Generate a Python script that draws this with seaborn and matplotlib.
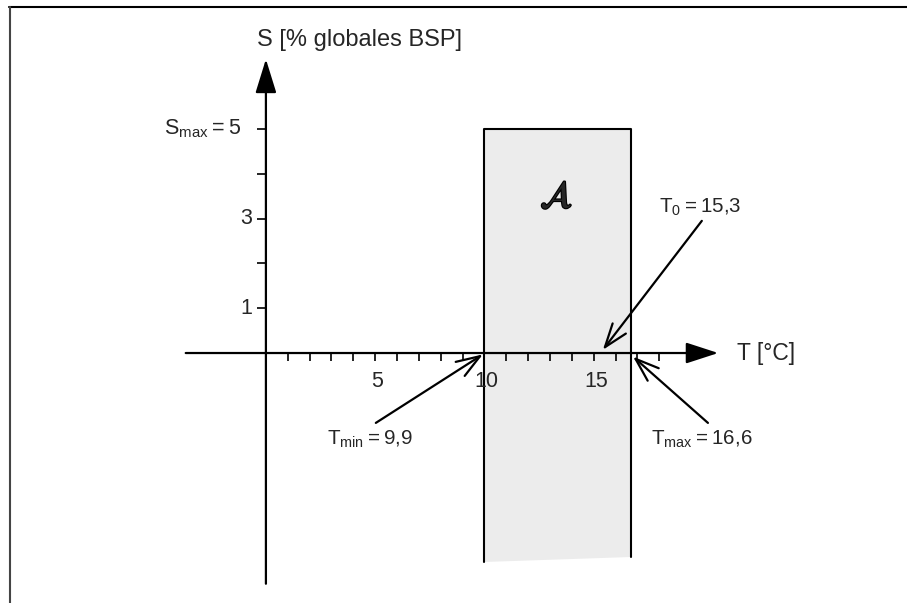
import matplotlib
matplotlib.use("Agg")
import matplotlib.pyplot as plt
import matplotlib.patheffects as pe
import seaborn as sns
import pandas as pd
from matplotlib.lines import Line2D

# ---- data ----
T_min = 9.9
T_0 = 15.3
T_max = 16.6
S_max = 5

x_minor_ticks = [1, 2, 3, 4, 5, 6, 7, 8, 9, 10, 11, 12, 13, 14, 15, 16, 17, 18]
x_tick_labels_pos = [5, 10, 15]
x_tick_labels = ["5", "10", "15"]
y_ticks = [1, 2, 3, 4, 5]
y_tick_labels_pos = [1, 3, 5]
y_tick_labels = ["1", "3", "S$_{\\mathregular{max}}$\u2009=\u20095"]

box_x = [10.0, 10.0, 16.7, 16.7]          # region A outline (left, top, right)
box_y = [-4.67, 5.0, 5.0, -4.55]

x_axis_range = [-3.67, 20.7]
y_axis_range = [-5.15, 6.56]

sns.set_theme(style="white")
plt.rcParams["font.family"] = ["Liberation Sans", "DejaVu Sans"]
plt.rcParams["mathtext.fontset"] = "custom"
plt.rcParams["mathtext.rm"] = "Liberation Sans"
plt.rcParams["mathtext.it"] = "Liberation Sans:italic"

fig = plt.figure(figsize=(9.07, 6.03), dpi=100)
ax = fig.add_axes([0, 0, 1, 1])
ax.set_xlim(-12.17, 29.34)
ax.set_ylim(-5.58, 7.88)
ax.axis("off")

# region A
ax.fill(box_x, box_y, color="#ececec", zorder=1, lw=0)
box_df = pd.DataFrame({"T": box_x, "S": box_y})
sns.lineplot(data=box_df, x="T", y="S", sort=False, estimator=None,
             color="black", lw=1.5, ax=ax, zorder=2)

# axes with arrowheads
ax.annotate("", xy=(x_axis_range[1], 0), xytext=(x_axis_range[0], 0),
            arrowprops=dict(arrowstyle="-|>,head_length=2.0,head_width=0.65",
                            mutation_scale=10, lw=1.6, color="black",
                            shrinkA=0, shrinkB=0), zorder=3)
ax.annotate("", xy=(0, y_axis_range[1]), xytext=(0, y_axis_range[0]),
            arrowprops=dict(arrowstyle="-|>,head_length=2.1,head_width=0.65",
                            mutation_scale=10, lw=1.6, color="black",
                            shrinkA=0, shrinkB=0), zorder=3)

# ticks
ax.vlines(x_minor_ticks, -0.18, 0, color="black", lw=1.2, zorder=3)
ax.hlines(y_ticks, -0.41, 0, color="black", lw=1.2, zorder=3)

for xp, lab in zip(x_tick_labels_pos, x_tick_labels):
    ax.text(xp + 0.1, -0.63, lab, ha="center", va="center", fontsize=15.5)
for yp, lab in zip(y_tick_labels_pos, y_tick_labels):
    dx = -1.1 if lab.startswith("S") else -0.62
    ax.text(dx, yp, lab, ha="right", va="center", fontsize=15.5)

# axis titles
ax.text(4.3, 6.99, "S [% globales BSP]", ha="center", va="center", fontsize=17)
ax.text(21.56, 0, "T [°C]", ha="left", va="center", fontsize=16.5)

# region label
ax.text(13.3, 3.48, r"$\mathcal{A}$", ha="center", va="center", fontsize=27,
        math_fontfamily="stix",
        path_effects=[pe.withStroke(linewidth=1.6, foreground="black")])

# annotations
arrow = dict(arrowstyle="->,head_length=1.7,head_width=0.6", mutation_scale=10,
             lw=1.6, color="black", shrinkA=0, shrinkB=0)
ax.annotate("", xy=(T_min + 0.03, -0.03), xytext=(5.03, -1.56), arrowprops=arrow)
ax.text(4.76, -1.92, "T$_{\\mathregular{min}}$\u2009=\u20099,9", ha="center", va="center", fontsize=14.8)

ax.annotate("", xy=(T_max + 0.2, -0.08), xytext=(20.23, -1.56), arrowprops=arrow)
ax.text(19.95, -1.92, "T$_{\\mathregular{max}}$\u2009=\u200916,6", ha="center", va="center", fontsize=14.8)

ax.annotate("", xy=(T_0 + 0.12, 0.07), xytext=(19.95, 2.95), arrowprops=arrow)
ax.text(19.86, 3.25, "T$_{\\mathregular{0}}$\u2009=\u200915,3", ha="center", va="center", fontsize=14.8)

# outer frame (top and left)
fig.add_artist(Line2D([9 / 907, 1], [1 - 7 / 603, 1 - 7 / 603],
                      transform=fig.transFigure, color="black", lw=1.5))
fig.add_artist(Line2D([10 / 907, 10 / 907], [0, 1 - 7 / 603],
                      transform=fig.transFigure, color="#444444", lw=1.5))

fig.savefig("out.png", dpi=100)
